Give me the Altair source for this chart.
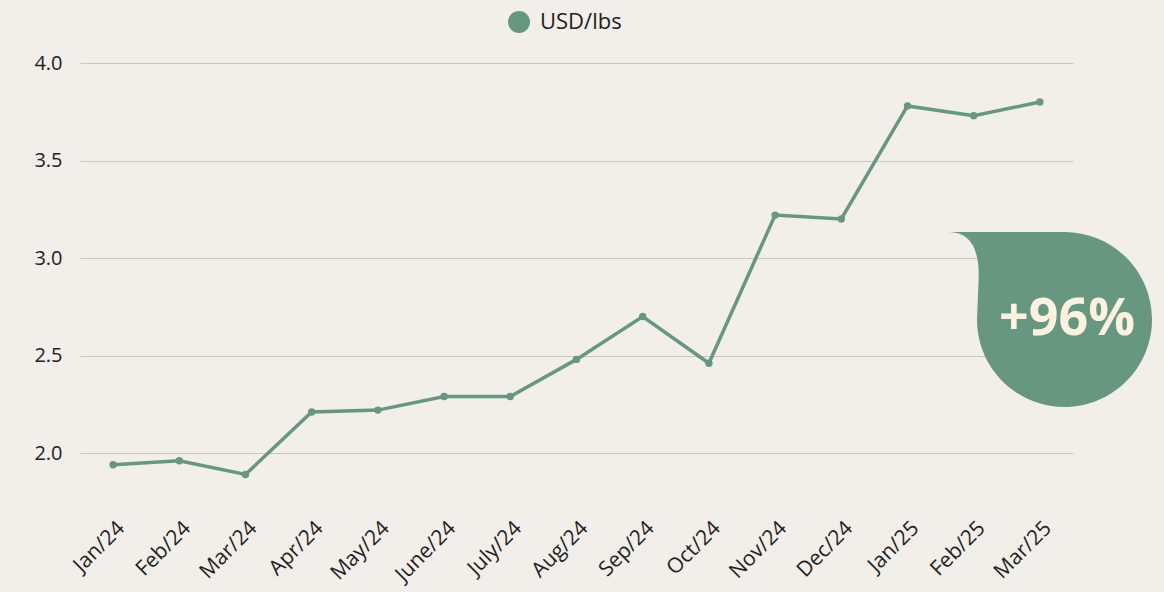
import altair as alt
import pandas as pd

months = ["Jan/24", "Feb/24", "Mar/24", "Apr/24", "May/24", "June/24", "July/24",
          "Aug/24", "Sep/24", "Oct/24", "Nov/24", "Dec/24", "Jan/25", "Feb/25", "Mar/25"]
prices = [1.94, 1.96, 1.89, 2.21, 2.22, 2.29, 2.29, 2.48, 2.70, 2.46, 3.22, 3.20, 3.78, 3.73, 3.80]
series_name = "USD/lbs"
y_ticks = [2.0, 2.5, 3.0, 3.5, 4.0]
badge_text = "+96%"

GREEN = "#679781"
BG = "#f2eee9"
FONT = "Open Sans"

df = pd.DataFrame({"month": months, "price": prices, "series": series_name})

x_enc = alt.X("month:N", sort=months, title=None,
              scale=alt.Scale(type="point", padding=0.5),
              axis=alt.Axis(labelAngle=-45, labelFontSize=21, labelColor="#222222",
                            labelFont=FONT, ticks=False, domain=False, grid=False,
                            labelPadding=25))
y_enc = alt.Y("price:Q", title=None,
              scale=alt.Scale(domain=[1.8, 4.0], nice=False, zero=False),
              axis=alt.Axis(values=y_ticks, format=".1f", labelFontSize=20,
                            labelColor="#222222", labelFont=FONT, ticks=False,
                            domain=False, grid=True, gridColor="#c9c5c0",
                            gridWidth=1, labelPadding=18))

line = alt.Chart(df).mark_line(color=GREEN, strokeWidth=3.5).encode(x=x_enc, y=y_enc)

points = alt.Chart(df).mark_point(filled=True, size=55, opacity=1).encode(
    x=alt.X("month:N", sort=months),
    y="price:Q",
    color=alt.Color("series:N", scale=alt.Scale(range=[GREEN]),
                    legend=alt.Legend(title=None, orient="none", legendX=428, legendY=-52,
                                      symbolType="circle", symbolSize=484,
                                      labelFontSize=22, labelFont=FONT,
                                      labelColor="#222222", padding=0,
                                      symbolStrokeWidth=0, labelOffset=10)),
)

badge_path = "M -1.32 -1 L 0 -1 A 1 1 0 1 1 -1 0 L -0.98 -0.5 Q -0.98 -1 -1.32 -1 Z"
badge_df = pd.DataFrame({"label": [badge_text]})
badge = alt.Chart(badge_df).mark_point(
    shape=badge_path, size=30625, filled=True, color=GREEN, opacity=1, strokeWidth=0
).encode(x=alt.value(984.5), y=alt.value(256.5))
badge_label = alt.Chart(badge_df).mark_text(
    color="#fdf2df", fontSize=52, fontWeight="bold", font=FONT, align="center", baseline="middle"
).encode(x=alt.value(987), y=alt.value(256), text="label:N")

chart = alt.layer(line, points, badge, badge_label).properties(
    width=993, height=429,
    autosize=alt.AutoSizeParams(type="none"),
    padding={"left": 80, "top": 63, "right": 91, "bottom": 100},
    background=BG,
).configure_view(stroke=None)

chart.save("out.html", embed_options={"renderer": "svg", "actions": False})
